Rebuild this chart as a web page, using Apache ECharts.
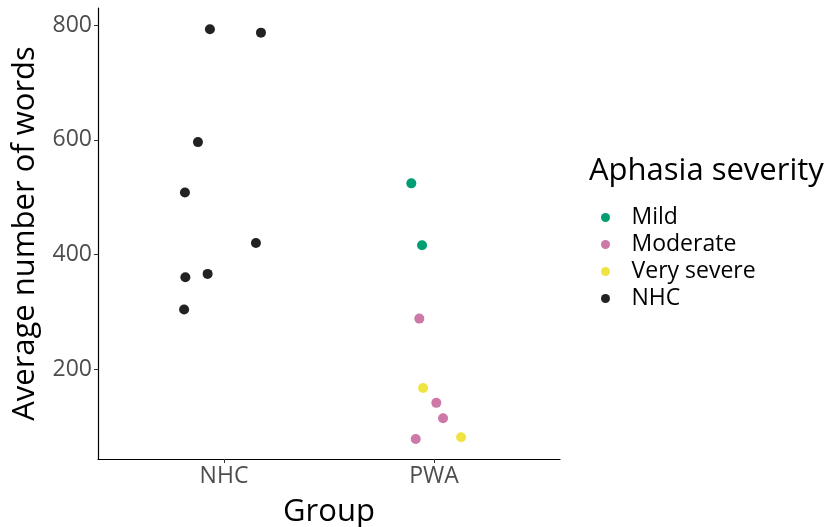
<!DOCTYPE html>
<html>
<head>
<meta charset="utf-8">
<script src="https://cdn.jsdelivr.net/npm/echarts@6/dist/echarts.min.js"></script>
<style>
  html, body { margin: 0; padding: 0; background: #fff; }
  #chart { width: 828px; height: 527px; }
</style>
</head>
<body>
<div id="chart"></div>
<script>
// Group categories on the x axis (positions 1 and 2, points jittered around them)
const groups = ['NHC', 'PWA'];
const yTicks = [200, 400, 600, 800];

// Jittered x positions and word counts per severity level
const mildX = [1.892, 1.943];
const mildY = [524, 416];
const moderateX = [1.930, 2.011, 2.043, 1.913];
const moderateY = [288, 141, 114, 78];
const verySevereX = [1.948, 2.129];
const verySevereY = [167, 81];
const nhcX = [0.933, 1.176, 0.876, 0.814, 1.152, 0.816, 0.922, 0.810];
const nhcY = [793, 787, 596, 508, 420, 360, 366, 304];

const severityNames = ['Mild', 'Moderate', 'Very severe', 'NHC'];
const severityColors = ['#009E73', '#CC79A7', '#F0E442', '#222222'];

const pairs = (xs, ys) => xs.map((x, i) => [x, ys[i]]);
const seriesData = [pairs(mildX, mildY), pairs(moderateX, moderateY),
                    pairs(verySevereX, verySevereY), pairs(nhcX, nhcY)];

const FONT = 'Open Sans';
const chart = echarts.init(document.getElementById('chart'), null, { renderer: 'canvas' });

chart.setOption({
  animation: false,
  backgroundColor: '#ffffff',
  textStyle: { fontFamily: FONT },
  title: {
    text: 'Aphasia severity',
    left: 589, top: 156,
    padding: 0,
    textStyle: { fontFamily: FONT, fontSize: 31, fontWeight: 'normal', color: '#000' }
  },
  legend: {
    orient: 'vertical',
    left: 601, top: 206,
    padding: 0,
    icon: 'circle',
    itemWidth: 42, itemHeight: 9,
    itemGap: 4,
    data: severityNames,
    textStyle: { fontFamily: FONT, fontSize: 23, color: '#000', lineHeight: 23 }
  },
  grid: { left: 98, right: 268, top: 8, bottom: 68, containLabel: false, outerBoundsMode: 'none' },
  xAxis: {
    type: 'value',
    min: 0.4, max: 2.6,
    name: 'Group',
    nameLocation: 'middle',
    nameGap: 38,
    nameTextStyle: { fontFamily: FONT, fontSize: 31, color: '#000' },
    splitLine: { show: false },
    axisLine: { show: true, lineStyle: { color: '#000', width: 1.2 } },
    axisTick: { show: true, length: 4, lineStyle: { color: '#333' }, customValues: [1, 2] },
    axisLabel: {
      customValues: [1, 2],
      formatter: v => groups[Math.round(v) - 1],
      fontFamily: FONT, fontSize: 23, color: '#4D4D4D', margin: 6
    }
  },
  yAxis: {
    type: 'value',
    min: 43, max: 830,
    name: 'Average number of words',
    nameLocation: 'middle',
    nameGap: 57,
    nameTextStyle: { fontFamily: FONT, fontSize: 31, color: '#000' },
    splitLine: { show: false },
    axisLine: { show: true, lineStyle: { color: '#000', width: 1.2 } },
    axisTick: { show: true, length: 4, lineStyle: { color: '#333' }, customValues: yTicks },
    axisLabel: {
      customValues: yTicks,
      fontFamily: FONT, fontSize: 23, color: '#4D4D4D', margin: 6
    }
  },
  series: severityNames.map((name, i) => ({
    name: name,
    type: 'scatter',
    symbol: 'circle',
    symbolSize: 10,
    itemStyle: { color: severityColors[i], opacity: 1 },
    data: seriesData[i]
  }))
});
</script>
</body>
</html>
